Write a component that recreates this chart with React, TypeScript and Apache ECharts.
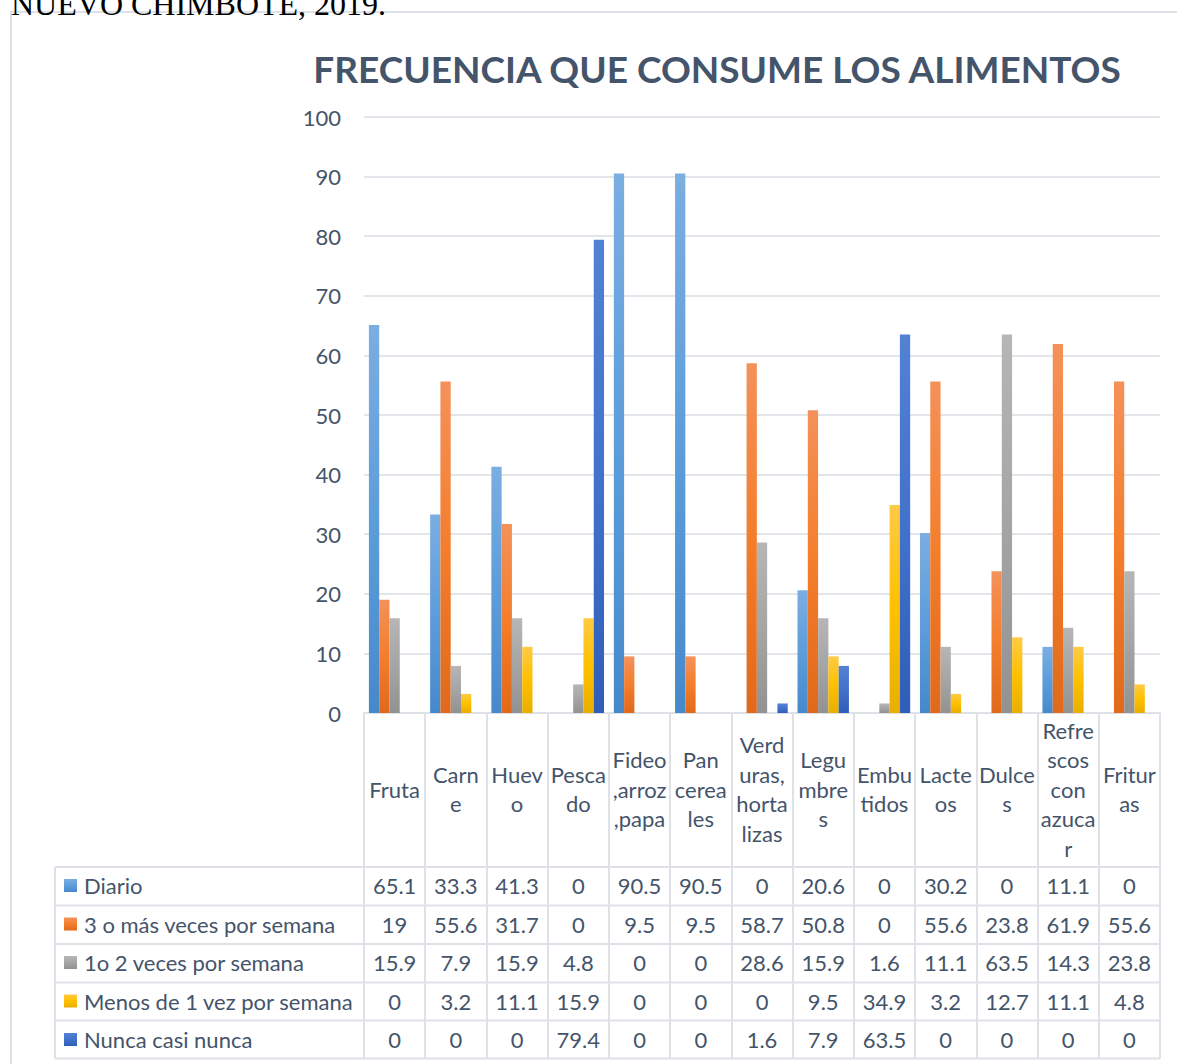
import React, { useEffect, useRef } from "react";
import * as echarts from "echarts";

const chartTitle = "FRECUENCIA QUE CONSUME LOS ALIMENTOS";
const headerText = "NUEVO CHIMBOTE, 2019.";

const categories = [
  "Fruta",
  "Carn\ne",
  "Huev\no",
  "Pesca\ndo",
  "Fideo\n,arroz\n,papa",
  "Pan\ncerea\nles",
  "Verd\nuras,\nhorta\nlizas",
  "Legu\nmbre\ns",
  "Embu\ntidos",
  "Lacte\nos",
  "Dulce\ns",
  "Refre\nscos\ncon\nazuca\nr",
  "Fritur\nas",
];

const seriesNames = [
  "Diario",
  "3 o más veces por semana",
  "1o 2 veces por semana",
  "Menos de 1 vez por semana",
  "Nunca casi nunca",
];

const diario = [65.1, 33.3, 41.3, 0, 90.5, 90.5, 0, 20.6, 0, 30.2, 0, 11.1, 0];
const tresOMas = [19, 55.6, 31.7, 0, 9.5, 9.5, 58.7, 50.8, 0, 55.6, 23.8, 61.9, 55.6];
const unoODos = [15.9, 7.9, 15.9, 4.8, 0, 0, 28.6, 15.9, 1.6, 11.1, 63.5, 14.3, 23.8];
const menosDeUna = [0, 3.2, 11.1, 15.9, 0, 0, 0, 9.5, 34.9, 3.2, 12.7, 11.1, 4.8];
const nunca = [0, 0, 0, 79.4, 0, 0, 1.6, 7.9, 63.5, 0, 0, 0, 0];

const seriesData = [diario, tresOMas, unoODos, menosDeUna, nunca];

const gradients = [
  ["#7BAEE1", "#5D9DDB", "#4689CB"],
  ["#F4915A", "#F47E2C", "#E0691B"],
  ["#B6B6B6", "#A5A5A5", "#929292"],
  ["#FFCA45", "#FFC000", "#E8AF00"],
  ["#5282D4", "#4272CB", "#2F5EB8"],
];

const FONT = "Lato";
const TEXT_COLOR = "#44546A";
const LINE_COLOR = "#DEE2E8";

const GRID_LEFT = 364;
const GRID_TOP = 117;
const GRID_W = 796;
const GRID_H = 596;
const TITLE_X = 717;
const TITLE_Y = 68;
const TABLE_LEFT = 55;
const ROW_LINES = [867, 905.5, 944, 982.5, 1020.5, 1058.5];

function grad(c: string[]) {
  return new echarts.graphic.LinearGradient(0, 0, 0, 1, [
    { offset: 0, color: c[0] },
    { offset: 0.5, color: c[1] },
    { offset: 1, color: c[2] },
  ]);
}

export default function App() {
  const ref = useRef<HTMLDivElement>(null);

  useEffect(() => {
    if (!ref.current) return;
    const chart = echarts.init(ref.current, undefined, { renderer: "svg" });

    const option: any = {
      animation: false,
      backgroundColor: "#ffffff",
      grid: { left: GRID_LEFT, top: GRID_TOP, width: GRID_W, height: GRID_H, containLabel: false },
      legend: {
        orient: "vertical",
        left: 64,
        top: 874.5,
        padding: 0,
        itemGap: 16.5,
        itemWidth: 13,
        itemHeight: 13,
        icon: "rect",
        selectedMode: false,
        data: seriesNames,
        textStyle: {
          fontFamily: FONT,
          fontSize: 22,
          lineHeight: 22,
          color: TEXT_COLOR,
          padding: [0, 0, 0, 2],
        },
      },
      xAxis: {
        type: "category",
        data: categories,
        axisLine: { show: true, lineStyle: { color: LINE_COLOR, width: 2 } },
        axisTick: { show: true, length: 345.5, lineStyle: { color: LINE_COLOR, width: 2 } },
        axisLabel: {
          interval: 0,
          margin: 76,
          verticalAlign: "middle",
          lineHeight: 29.5,
          fontFamily: FONT,
          fontSize: 22,
          color: TEXT_COLOR,
        },
        splitLine: { show: false },
      },
      yAxis: {
        type: "value",
        min: 0,
        max: 100,
        interval: 10,
        axisLine: { show: false },
        axisTick: { show: false },
        axisLabel: { margin: 23, fontFamily: FONT, fontSize: 22, color: TEXT_COLOR },
        splitLine: { show: true, lineStyle: { color: "#E2E6EB", width: 2 } },
      },
      series: seriesNames.map((name, i) => ({
        name,
        type: "bar",
        data: seriesData[i],
        barGap: "0%",
        barCategoryGap: "16%",
        itemStyle: { color: grad(gradients[i]) },
      })),
    };
    chart.setOption(option);

    const graphics: any[] = [];
    graphics.push({
      type: "text",
      x: 11,
      y: 4,
      style: {
        text: headerText,
        fontFamily: "Liberation Serif",
        fontSize: 32,
        fill: "#000000",
        textAlign: "left",
        textVerticalAlign: "middle",
      },
    });
    graphics.push({
      type: "rect",
      shape: { x: 11, y: 12, width: 1300, height: 1200 },
      style: { fill: "none", stroke: LINE_COLOR, lineWidth: 2 },
      z: -1,
    });
    graphics.push({
      type: "text",
      x: TITLE_X,
      y: TITLE_Y,
      style: {
        text: chartTitle,
        fontFamily: FONT,
        fontWeight: "bold",
        fontSize: 37,
        fill: TEXT_COLOR,
        textAlign: "center",
        textVerticalAlign: "middle",
      },
    });
    const right = GRID_LEFT + GRID_W;
    ROW_LINES.forEach((y) => {
      graphics.push({
        type: "line",
        shape: { x1: TABLE_LEFT, y1: y, x2: right, y2: y },
        style: { stroke: LINE_COLOR, lineWidth: 2 },
      });
    });
    graphics.push({
      type: "line",
      shape: { x1: TABLE_LEFT, y1: ROW_LINES[0], x2: TABLE_LEFT, y2: ROW_LINES[ROW_LINES.length - 1] },
      style: { stroke: LINE_COLOR, lineWidth: 2 },
    });
    seriesData.forEach((arr, r) => {
      const yc = (ROW_LINES[r] + ROW_LINES[r + 1]) / 2 - 0.5;
      arr.forEach((v, c) => {
        const px = chart.convertToPixel({ xAxisIndex: 0 }, c) as number;
        graphics.push({
          type: "text",
          x: px,
          y: yc,
          style: {
            text: String(v),
            fontFamily: FONT,
            fontSize: 22,
            fill: TEXT_COLOR,
            textAlign: "center",
            textVerticalAlign: "middle",
          },
        });
      });
    });
    chart.setOption({ graphic: graphics });

    return () => chart.dispose();
  }, []);

  return (
    <div
      ref={ref}
      style={{ position: "absolute", left: 0, top: 0, width: 1177, height: 1064 }}
    />
  );
}
